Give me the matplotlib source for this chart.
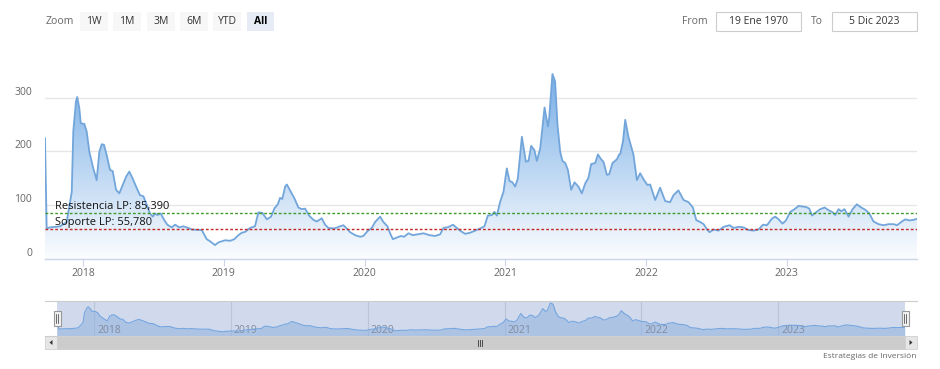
import numpy as np
import matplotlib
matplotlib.use("Agg")
import matplotlib.pyplot as plt
from matplotlib.patches import Rectangle, Polygon
from matplotlib.lines import Line2D

plt.rcParams['font.family'] = ['Open Sans', 'DejaVu Sans']

# ---------------- data (decimal years, values) ----------------
t_years = [
    2017.730, 2017.742, 2017.765, 2017.837, 2017.884, 2017.920, 2017.931, 2017.950, 2017.959, 2017.974,
    2017.984, 2018.009, 2018.026, 2018.045, 2018.073, 2018.097, 2018.116, 2018.133, 2018.149, 2018.168,
    2018.192, 2018.211, 2018.235, 2018.258, 2018.282, 2018.306, 2018.329, 2018.353, 2018.382, 2018.405,
    2018.429, 2018.453, 2018.476, 2018.495, 2018.512, 2018.528, 2018.552, 2018.576, 2018.599, 2018.630,
    2018.654, 2018.684, 2018.713, 2018.748, 2018.773, 2018.844, 2018.879, 2018.903, 2018.938, 2018.962,
    2019.009, 2019.045, 2019.075, 2019.104, 2019.128, 2019.151, 2019.187, 2019.222, 2019.246, 2019.274,
    2019.306, 2019.336, 2019.360, 2019.384, 2019.400, 2019.416, 2019.436, 2019.448, 2019.471, 2019.502,
    2019.530, 2019.554, 2019.578, 2019.606, 2019.637, 2019.661, 2019.696, 2019.720, 2019.743, 2019.786,
    2019.826, 2019.850, 2019.874, 2019.898, 2019.933, 2019.969, 2019.992, 2020.021, 2020.052, 2020.075,
    2020.111, 2020.134, 2020.163, 2020.182, 2020.201, 2020.229, 2020.258, 2020.281, 2020.312, 2020.343,
    2020.376, 2020.419, 2020.461, 2020.502, 2020.537, 2020.561, 2020.596, 2020.628, 2020.656, 2020.684,
    2020.715, 2020.750, 2020.786, 2020.822, 2020.852, 2020.876, 2020.905, 2020.923, 2020.940, 2020.964,
    2020.987, 2021.011, 2021.030, 2021.051, 2021.070, 2021.089, 2021.118, 2021.146, 2021.165, 2021.184,
    2021.207, 2021.224, 2021.248, 2021.279, 2021.303, 2021.312, 2021.335, 2021.354, 2021.371, 2021.390,
    2021.406, 2021.426, 2021.445, 2021.468, 2021.492, 2021.520, 2021.544, 2021.568, 2021.591, 2021.610,
    2021.639, 2021.658, 2021.681, 2021.698, 2021.722, 2021.738, 2021.762, 2021.793, 2021.809, 2021.817,
    2021.836, 2021.852, 2021.875, 2021.911, 2021.935, 2021.958, 2021.986, 2022.010, 2022.029, 2022.065,
    2022.100, 2022.136, 2022.171, 2022.195, 2022.230, 2022.267, 2022.302, 2022.333, 2022.357, 2022.385,
    2022.409, 2022.437, 2022.451, 2022.480, 2022.515, 2022.551, 2022.593, 2022.622, 2022.657, 2022.693,
    2022.728, 2022.764, 2022.799, 2022.831, 2022.859, 2022.895, 2022.918, 2022.942, 2022.970, 2022.994,
    2023.025, 2023.055, 2023.084, 2023.112, 2023.136, 2023.160, 2023.179, 2023.202, 2023.238, 2023.269,
    2023.297, 2023.321, 2023.344, 2023.368, 2023.387, 2023.410, 2023.439, 2023.467, 2023.498, 2023.529,
    2023.557, 2023.586, 2023.616, 2023.652, 2023.688, 2023.723, 2023.759, 2023.783, 2023.818, 2023.842,
    2023.870, 2023.901, 2023.925,
]
values = [
    224, 56, 58, 60, 68, 124, 237, 293, 301, 280,
    252, 251, 237, 199, 168, 146, 199, 213, 212, 193,
    165, 163, 128, 121.5, 137, 152.5, 162, 149, 131, 118,
    116, 100, 84, 78, 84, 81, 84, 72, 63, 58,
    63, 58, 60, 57, 54, 53, 36, 32, 25, 30,
    34, 33, 36, 43.5, 48, 49.5, 57, 60, 86, 85,
    73, 78, 93.5, 101, 113, 111, 134, 138, 127, 112,
    95, 92, 93, 80, 72, 69, 75, 63, 57, 56,
    60, 62, 56, 49, 43.5, 40.5, 42, 51, 57, 68,
    78, 68, 60, 47, 36, 39, 42, 40.5, 47, 43.5,
    45, 47, 43.5, 42, 45, 57, 58.5, 63, 57, 51,
    46, 48, 52, 56, 60, 80, 81, 87, 80, 106,
    124, 168, 144.5, 142, 134, 149, 227, 180.5, 182, 210,
    202, 182, 205, 281.5, 246, 262, 344, 330, 249, 199,
    182, 178, 165, 128, 142, 134, 121.5, 140, 150.5, 176,
    178, 194, 185, 180, 156, 157, 178, 185, 194, 195,
    218, 258.5, 227, 193, 146, 159, 146, 137, 138, 109,
    132, 107, 105, 118, 127, 109, 105, 95, 71.5, 68,
    64, 53, 49, 54, 52, 59, 62, 57, 59, 58,
    53, 52, 54, 63, 62, 74.5, 78, 73, 65, 71,
    87, 92, 98, 97, 96, 93, 80, 85, 92, 95,
    90, 87, 81, 92, 88, 92, 78, 92, 101, 95,
    91, 84, 69, 64, 62, 64, 64, 62, 69, 73,
    71, 72, 74,
]
year_ticks = [2018, 2019, 2020, 2021, 2022, 2023]
year_labels = ['2018', '2019', '2020', '2021', '2022', '2023']
y_ticks = [0, 100, 200, 300]
resistencia = 85.39
soporte = 55.78
resistencia_label = 'Resistencia LP: 85,390'
soporte_label = 'Soporte LP: 55,780'
zoom_buttons = ['1W', '1M', '3M', '6M', 'YTD', 'All']
from_date = '19 Ene 1970'
to_date = '5 Dic 2023'

# ---------------- figure ----------------
W, H = 940, 369
fig = plt.figure(figsize=(W / 100, H / 100), dpi=100)
fig.patch.set_facecolor('white')


def fr(x0, y0, x1, y1):
    return [x0 / W, 1 - y1 / H, (x1 - x0) / W, (y1 - y0) / H]


def rect_px(x0, y0, x1, y1, **kw):
    r = Rectangle((x0 / W, 1 - y1 / H), (x1 - x0) / W, (y1 - y0) / H,
                  transform=fig.transFigure, **kw)
    fig.add_artist(r)
    return r


def line_px(xs, ys, **kw):
    fig.add_artist(Line2D([x / W for x in xs], [1 - y / H for y in ys],
                          transform=fig.transFigure, **kw))


def text_px(x, y, s, **kw):
    fig.text(x / W, 1 - y / H, s, **kw)


t = np.array(t_years)
v = np.array(values)
xmin, xmax = t[0], t[-1]
YMAX = 370

# ---------------- main chart ----------------
ax = fig.add_axes(fr(45, 60, 917, 258.5))
ax.set_xlim(xmin, xmax)
ax.set_ylim(0, YMAX)
ax.set_facecolor('white')

# vertical gradient fill under the line
g = np.linspace(0, 1, 256).reshape(-1, 1)
base = np.array([0.40, 0.64, 0.89]).reshape(1, 3)
alpha = 0.03 + 0.92 * g
rgb = 1 - alpha * (1 - base)          # shape (256, 3)
img = rgb.reshape(256, 1, 3)
im = ax.imshow(img, extent=[xmin, xmax, 0, YMAX], origin='lower', aspect='auto',
               zorder=1, interpolation='bilinear')
verts = [(xmin, 0)] + list(zip(t, v)) + [(xmax, 0)]
poly = Polygon(verts, closed=True, facecolor='none', edgecolor='none', transform=ax.transData)
ax.add_patch(poly)
im.set_clip_path(poly)

ax.plot(t, v, color='#72a6db', lw=1.3, zorder=3, solid_joinstyle='round')

ax.axhline(resistencia, color='#3f9a2c', lw=1.0, ls=(0, (2.0, 1.5)), zorder=4)
ax.axhline(soporte, color='#c62828', lw=1.0, ls=(0, (2.0, 1.5)), zorder=4)
ax.text(0.0115, resistencia + 2, resistencia_label, transform=ax.get_yaxis_transform(),
        ha='left', va='bottom', fontsize=8, color='#111111', zorder=5)
ax.text(0.0115, soporte + 2, soporte_label, transform=ax.get_yaxis_transform(),
        ha='left', va='bottom', fontsize=8, color='#111111', zorder=5)

ax.set_yticks(y_ticks)
ax.set_yticklabels([str(y) for y in y_ticks])
ax.grid(axis='y', color='#e6e6e6', lw=1, zorder=0)
ax.set_axisbelow(True)
ax.set_xticks(year_ticks)
ax.set_xticklabels(year_labels)
for s in ['top', 'right', 'left']:
    ax.spines[s].set_visible(False)
ax.spines['bottom'].set_color('#ccd6eb')
ax.spines['bottom'].set_linewidth(1)
ax.tick_params(axis='x', length=5, width=0.8, color='#ccd6eb', labelcolor='#666666',
               labelsize=7.5, pad=2)
ax.tick_params(axis='y', length=0, pad=9.4, labelcolor='#666666', labelsize=7.5)
plt.setp(ax.get_yticklabels(), va='bottom')

# ---------------- top controls ----------------
text_px(46, 22, 'Zoom', fontsize=7.5, color='#666666', va='center', ha='left')
btn_x = [(80, 108), (113, 141), (147, 175), (180, 208), (213, 241), (247, 274)]
for (bx0, bx1), lab in zip(btn_x, zoom_buttons):
    sel = lab == 'All'
    rect_px(bx0, 12, bx1, 31, facecolor='#e6ebf5' if sel else '#f7f7f7', edgecolor='none')
    text_px((bx0 + bx1) / 2, 21.5, lab, fontsize=7.5, color='#333333' if not sel else '#000000',
            ha='center', va='center', fontweight='bold' if sel else 'normal')

text_px(682, 21.5, 'From', fontsize=7.5, color='#666666', ha='left', va='center')
rect_px(716, 12, 801, 31, facecolor='white', edgecolor='#cccccc', lw=0.8)
text_px(758.5, 21.5, from_date, fontsize=7.5, color='#333333', ha='center', va='center')
text_px(811, 21.5, 'To', fontsize=7.5, color='#666666', ha='left', va='center')
rect_px(832, 12, 917, 31, facecolor='white', edgecolor='#cccccc', lw=0.8)
text_px(874.5, 21.5, to_date, fontsize=7.5, color='#333333', ha='center', va='center')

# ---------------- navigator ----------------
axn = fig.add_axes(fr(57, 301, 905, 336))
axn.set_xlim(xmin, xmax)
axn.set_ylim(-22, 366)
axn.set_facecolor('white')
for s in axn.spines.values():
    s.set_visible(False)
axn.set_xticks([])
axn.set_yticks([])
for yr, lab in zip(year_ticks, year_labels):
    axn.axvline(yr, color='#e0e0e0', lw=0.8, zorder=0.5)
    axn.text(yr + 0.022, 0.16, lab, transform=axn.get_xaxis_transform(), fontsize=7.5,
             color='#8f8f8f', ha='left', va='center', zorder=2)
axn.fill_between(t, v, -22, color='#a9c9ee', alpha=0.6, lw=0, zorder=1)
axn.plot(t, v, color='#7cb5ec', lw=0.8, zorder=2)
axn.add_patch(Rectangle((0, 0), 1, 1, transform=axn.transAxes,
                        facecolor=(102 / 255, 133 / 255, 194 / 255, 0.3), edgecolor='none', zorder=3))

line_px([45, 917], [301, 301], color='#cccccc', lw=0.8)
line_px([45, 57], [336, 336], color='#cccccc', lw=0.8)

# handles
for hx in (57, 905):
    rect_px(hx - 3.5, 311, hx + 3.5, 326, facecolor='#f2f2f2', edgecolor='#999999', lw=0.8, zorder=5)
    line_px([hx - 1, hx - 1], [314, 323], color='#333333', lw=0.5, zorder=6)
    line_px([hx + 1, hx + 1], [314, 323], color='#333333', lw=0.5, zorder=6)

# scrollbar
rect_px(45, 336, 917, 349, facecolor='#f2f2f2', edgecolor='#f2f2f2', lw=0.5)
rect_px(57, 336, 905, 349, facecolor='#cccccc', edgecolor='#cccccc', lw=0.5)
rect_px(45, 336, 57, 349, facecolor='#e6e6e6', edgecolor='#cccccc', lw=0.5)
rect_px(905, 336, 917, 349, facecolor='#e6e6e6', edgecolor='#cccccc', lw=0.5)
fig.add_artist(Polygon([(52.5 / W, 1 - 340 / H), (49.5 / W, 1 - 342.5 / H), (52.5 / W, 1 - 345 / H)],
                       closed=True, transform=fig.transFigure, facecolor='#333333', edgecolor='none'))
fig.add_artist(Polygon([(909.5 / W, 1 - 340 / H), (912.5 / W, 1 - 342.5 / H), (909.5 / W, 1 - 345 / H)],
                       closed=True, transform=fig.transFigure, facecolor='#333333', edgecolor='none'))
for rx in (478, 480, 482):
    line_px([rx, rx], [339.5, 345.5], color='#333333', lw=0.6)

text_px(916, 356.5, 'Estrategias de Inversión', fontsize=6, color='#666666', ha='right', va='center')

fig.savefig('out.png', dpi=100, facecolor='white')
